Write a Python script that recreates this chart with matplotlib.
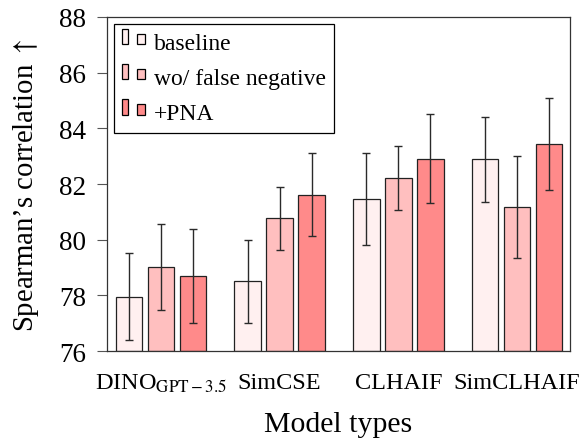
import numpy as np
import matplotlib
matplotlib.use("Agg")
import matplotlib.pyplot as plt
from matplotlib.patches import Rectangle
from matplotlib.legend_handler import HandlerBase

plt.rcParams['font.family'] = ['Liberation Serif', 'DejaVu Serif']
plt.rcParams['mathtext.fontset'] = 'stix'

# data
models = [r"DINO$_{\mathrm{GPT-3.5}}$", "SimCSE", "CLHAIF", "SimCLHAIF"]
series = ["baseline", "wo/ false negative", "+PNA"]
baseline = [77.96, 78.50, 81.45, 82.89]
baseline_err = [1.55, 1.50, 1.65, 1.53]
wo_fn = [79.02, 80.77, 82.23, 81.16]
wo_fn_err = [1.55, 1.13, 1.15, 1.83]
pna = [78.70, 81.62, 82.91, 83.43]
pna_err = [1.70, 1.48, 1.60, 1.65]
colors = ["#fff0f0", "#ffbfbf", "#ff8a8a"]


class TwoBars(HandlerBase):
    """pgfplots style ybar legend: two little bars"""
    def create_artists(self, legend, orig, xdescent, ydescent, width, height, fontsize, trans):
        fc = orig.get_facecolor()
        x0 = -xdescent
        y0 = -ydescent + 0.2 * fontsize
        r1 = Rectangle((x0, y0), 0.22 * fontsize, 0.66 * fontsize, facecolor=fc,
                       edgecolor="black", lw=0.9, transform=trans)
        r2 = Rectangle((x0 + 0.64 * fontsize, y0), 0.34 * fontsize, 0.44 * fontsize,
                       facecolor=fc, edgecolor="black", lw=0.9, transform=trans)
        return [r1, r2]


fig = plt.figure(figsize=(5.83, 4.39), dpi=100)
ax = fig.add_axes([0.1835, 0.198, 0.7942, 0.761])

x = np.arange(len(models))
w = 0.225
off = 0.27
handles = []
for i, (vals, errs) in enumerate([(baseline, baseline_err), (wo_fn, wo_fn_err), (pna, pna_err)]):
    b = ax.bar(x + (i - 1) * off, np.array(vals) - 76, w, bottom=76, color=colors[i],
               edgecolor="#222222", linewidth=0.9, label=series[i], zorder=2)
    ax.errorbar(x + (i - 1) * off, vals, yerr=errs, fmt="none", ecolor="#2a2a2a",
                elinewidth=1.0, capsize=3.2, capthick=1.0, zorder=3)
    handles.append(b.patches[0])

ax.set_xlim(-0.455, 3.447)
ax.set_ylim(76, 88)
ax.set_yticks([76, 78, 80, 82, 84, 86, 88])
ax.set_xticks(x)
ax.set_xticklabels(models)
ax.tick_params(axis="x", length=0, pad=15, labelsize=17.5)
ax.tick_params(axis="y", direction="out", length=7, width=0.8, color="#555555", pad=8, labelsize=19.5)
for s in ax.spines.values():
    s.set_color("#333333")
    s.set_linewidth(0.9)

ax.set_ylabel("Spearman\u2019s correlation $\\uparrow$", fontsize=20.7, labelpad=13)
ax.set_xlabel("Model types", fontsize=21.5, labelpad=12)

leg = ax.legend(handles, series, handler_map={h: TwoBars() for h in handles},
                loc="upper left", bbox_to_anchor=(0.0, 1.0), fontsize=17,
                fancybox=False, framealpha=1, edgecolor="black",
                handlelength=1.0, handletextpad=0.35, labelspacing=0.58,
                borderpad=0.35, borderaxespad=0.3)
leg.get_frame().set_linewidth(0.9)

fig.savefig("out.png", dpi=100)
